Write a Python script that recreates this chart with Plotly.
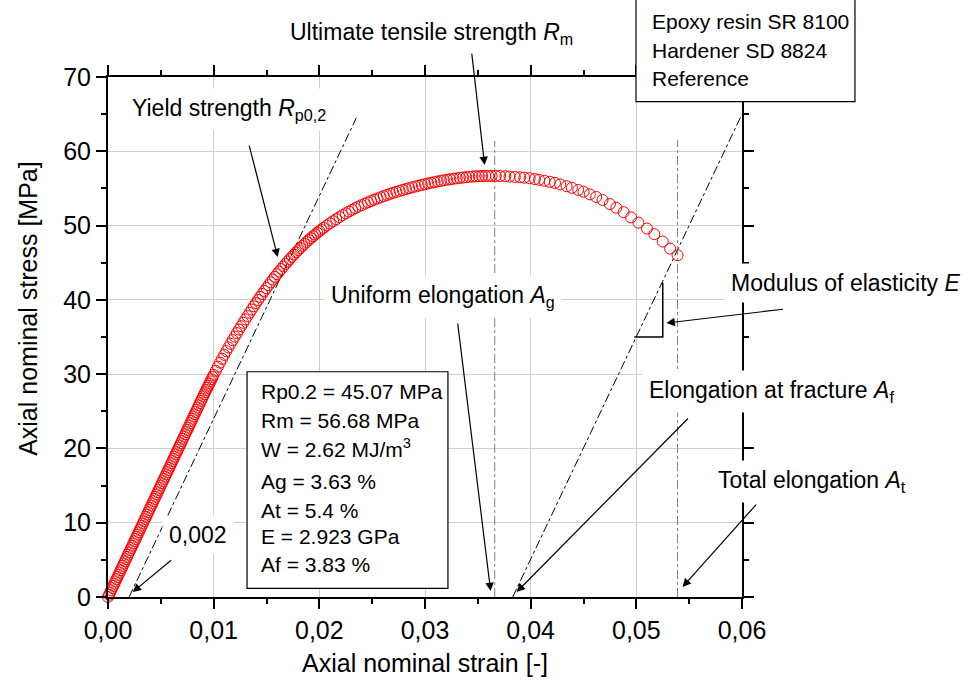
import plotly.graph_objects as go

FONT = "Liberation Sans, Arial, sans-serif"

# ---------------- data ----------------
strain = [
    0.0000, 0.0001, 0.0002, 0.0003, 0.0004, 0.0005, 0.0006, 0.0007, 0.0008, 0.0009,
    0.0010, 0.0011, 0.0012, 0.0013, 0.0014, 0.0015, 0.0016, 0.0017, 0.0018, 0.0019,
    0.0020, 0.0021, 0.0022, 0.0023, 0.0024, 0.0025, 0.0026, 0.0027, 0.0028, 0.0029,
    0.0030, 0.0031, 0.0032, 0.0033, 0.0034, 0.0035, 0.0036, 0.0037, 0.0038, 0.0039,
    0.0040, 0.0041, 0.0042, 0.0043, 0.0044, 0.0045, 0.0046, 0.0047, 0.0048, 0.0049,
    0.0050, 0.0051, 0.0052, 0.0053, 0.0054, 0.0055, 0.0056, 0.0057, 0.0058, 0.0059,
    0.0060, 0.0061, 0.0062, 0.0063, 0.0064, 0.0065, 0.0066, 0.0067, 0.0068, 0.0069,
    0.0070, 0.0071, 0.0072, 0.0073, 0.0074, 0.0075, 0.0076, 0.0077, 0.0078, 0.0079,
    0.0080, 0.0081, 0.0082, 0.0083, 0.0084, 0.0085, 0.0086, 0.0087, 0.0088, 0.0089,
    0.0090, 0.0091, 0.0092, 0.0093, 0.0094, 0.0095, 0.0096, 0.0097, 0.0098, 0.0099,
    0.0100,
    0.0102, 0.0104, 0.0106, 0.0108, 0.0110, 0.0112, 0.0114, 0.0116, 0.0118, 0.0120,
    0.0122, 0.0124, 0.0126, 0.0128, 0.0130, 0.0132, 0.0134, 0.0136, 0.0138, 0.0140,
    0.0142, 0.0144, 0.0146, 0.0148, 0.0150, 0.0152, 0.0154, 0.0156, 0.0158, 0.0160,
    0.0162, 0.0164, 0.0166, 0.0168, 0.0170, 0.0172, 0.0174, 0.0176, 0.0178, 0.0180,
    0.0182, 0.0184, 0.0186, 0.0188, 0.0190, 0.0192, 0.0194, 0.0196, 0.0198, 0.0200,
    0.0202, 0.0204,
    0.0207, 0.0210, 0.0213, 0.0216, 0.0219, 0.0222, 0.0225, 0.0228, 0.0231, 0.0234,
    0.0237, 0.0240, 0.0243, 0.0246, 0.0249, 0.0252, 0.0255, 0.0258, 0.0261, 0.0264,
    0.0267, 0.0270, 0.0273, 0.0276, 0.0279, 0.0282, 0.0285, 0.0288, 0.0291, 0.0294,
    0.0297, 0.0300, 0.0303, 0.0306, 0.0309, 0.0312, 0.0315, 0.0318, 0.0321, 0.0324,
    0.0327, 0.0330, 0.0333, 0.0336, 0.0339, 0.0342, 0.0345, 0.0348, 0.0351, 0.0354,
    0.0357, 0.0360, 0.0363,
    0.0367, 0.0371, 0.0376, 0.0380, 0.0385, 0.0390, 0.0394, 0.0399, 0.0404, 0.0408,
    0.0413, 0.0418, 0.0423, 0.0428, 0.0434, 0.0439, 0.0445, 0.0450, 0.0456, 0.0462,
    0.0468, 0.0475, 0.0481, 0.0488, 0.0495, 0.0502, 0.0510, 0.0517, 0.0525, 0.0532,
    0.0539,
]

stress = [
    0.0, 0.3, 0.6, 0.9, 1.2, 1.5, 1.8, 2.1, 2.4, 2.7,
    3.0, 3.3, 3.6, 3.9, 4.2, 4.5, 4.8, 5.1, 5.4, 5.7,
    6.0, 6.3, 6.6, 6.9, 7.2, 7.5, 7.8, 8.1, 8.4, 8.7,
    9.0, 9.3, 9.6, 9.9, 10.2, 10.5, 10.8, 11.1, 11.4, 11.7,
    12.0, 12.3, 12.6, 12.9, 13.2, 13.5, 13.8, 14.1, 14.4, 14.7,
    15.0, 15.3, 15.6, 15.9, 16.2, 16.5, 16.8, 17.1, 17.4, 17.7,
    18.0, 18.3, 18.6, 18.9, 19.2, 19.5, 19.8, 20.1, 20.4, 20.7,
    21.0, 21.3, 21.6, 21.9, 22.2, 22.5, 22.8, 23.1, 23.4, 23.7,
    24.0, 24.3, 24.6, 24.9, 25.2, 25.5, 25.8, 26.1, 26.4, 26.7,
    27.0, 27.29, 27.58, 27.87, 28.16, 28.45, 28.74, 29.03, 29.32, 29.61,
    29.90,
    30.45, 31.00, 31.54, 32.07, 32.59, 33.10, 33.60, 34.09, 34.58, 35.06,
    35.53, 36.00, 36.46, 36.92, 37.37, 37.82, 38.26, 38.70, 39.13, 39.56,
    39.98, 40.39, 40.80, 41.20, 41.59, 41.98, 42.36, 42.73, 43.10, 43.46,
    43.81, 44.16, 44.50, 44.83, 45.16, 45.48, 45.79, 46.10, 46.40, 46.69,
    46.98, 47.26, 47.53, 47.80, 48.06, 48.31, 48.56, 48.80, 49.03, 49.26,
    49.48, 49.69,
    50.00, 50.30, 50.59, 50.87, 51.14, 51.40, 51.65, 51.89, 52.12, 52.34,
    52.55, 52.75, 52.94, 53.13, 53.31, 53.48, 53.65, 53.81, 53.97, 54.12,
    54.27, 54.41, 54.54, 54.67, 54.80, 54.92, 55.04, 55.15, 55.26, 55.37,
    55.47, 55.57, 55.67, 55.76, 55.85, 55.94, 56.02, 56.10, 56.17, 56.24,
    56.30, 56.36, 56.42, 56.47, 56.52, 56.56, 56.60, 56.63, 56.65, 56.66,
    56.67, 56.68, 56.68,
    56.68, 56.67, 56.64, 56.60, 56.55, 56.50, 56.45, 56.37, 56.26, 56.16,
    56.03, 55.89, 55.74, 55.54, 55.30, 55.08, 54.80, 54.55, 54.20, 53.85,
    53.45, 52.90, 52.40, 51.80, 51.10, 50.40, 49.60, 48.85, 47.85, 46.90,
    46.00,
]

# construction lines (strain, stress end points)
offset_line_x = [0.0020, 0.0235]
offset_line_y = [0.0, 64.5]
modulus_line_x = [0.0383, 0.0600]
modulus_line_y = [0.0, 65.0]
ag_line_x = [0.0366, 0.0366]
ag_line_y = [0.0, 61.4]
at_line_x = [0.0539, 0.0539]
at_line_y = [0.0, 61.5]
triangle_x = [0.0498, 0.0525, 0.0525]
triangle_y = [35.0, 35.0, 42.3]

x_ticks = [0.00, 0.01, 0.02, 0.03, 0.04, 0.05, 0.06]
y_ticks = [0, 10, 20, 30, 40, 50, 60, 70]

results = [
    "Rp0.2 = 45.07 MPa",
    "Rm = 56.68 MPa",
    "W = 2.62 MJ/m<sup>3</sup>",
    "Ag = 3.63 %",
    "At = 5.4 %",
    "E = 2.923 GPa",
    "Af = 3.83 %",
]
legend_lines = ["Epoxy resin SR 8100", "Hardener SD 8824", "Reference"]

# ---------------- figure ----------------
fig = go.Figure()

fig.add_trace(go.Scatter(x=offset_line_x, y=offset_line_y, mode="lines",
                         line=dict(color="black", width=1, dash="dashdot"),
                         showlegend=False, hoverinfo="skip"))
fig.add_trace(go.Scatter(x=modulus_line_x, y=modulus_line_y, mode="lines",
                         line=dict(color="black", width=1, dash="dashdot"),
                         showlegend=False, hoverinfo="skip"))
for lx, ly in ((ag_line_x, ag_line_y), (at_line_x, at_line_y)):
    fig.add_trace(go.Scatter(x=lx, y=ly, mode="lines",
                             line=dict(color="#808080", width=1, dash="dashdot"),
                             showlegend=False, hoverinfo="skip"))
fig.add_trace(go.Scatter(x=triangle_x, y=triangle_y, mode="lines",
                         line=dict(color="black", width=1.5),
                         showlegend=False, hoverinfo="skip"))

fig.add_trace(go.Scatter(x=strain, y=stress, mode="markers",
                         marker=dict(symbol="circle-open", size=11, color="red",
                                     line=dict(color="red", width=1)),
                         cliponaxis=False, showlegend=False))

ann = []
lab_font = dict(family=FONT, size=23, color="black")


def label(x, y, text, xanchor="left"):
    ann.append(dict(x=x, y=y, xref="x", yref="y", text=text, showarrow=False,
                    xanchor=xanchor, yanchor="middle", font=lab_font,
                    bgcolor="white", borderpad=6))


def arrow(x, y, ax, ay):
    ann.append(dict(x=x, y=y, ax=ax, ay=ay, xref="x", yref="y", axref="x", ayref="y",
                    text="", showarrow=True, arrowhead=2, arrowsize=1.4,
                    arrowwidth=1.2, arrowcolor="black", standoff=0, startstandoff=0))


ann.append(dict(x=0.511, y=1.0846, xref="paper", yref="paper",
                text="Ultimate tensile strength <i>R</i><sub>m</sub>", showarrow=False,
                xanchor="center", yanchor="middle", font=lab_font))
arrow(0.03564, 58.14, 0.03441, 73.35)
label(0.00158, 65.6, "Yield strength <i>R</i><sub>p0,2</sub>")
arrow(0.01606, 45.76, 0.01333, 60.97)
label(0.0085, 8.34, "0,002", xanchor="center")
arrow(0.00234, 0.67, 0.00612, 5.11)
label(0.0204, 40.4, "Uniform elongation <i>A</i><sub>g</sub>")
arrow(0.03621, 0.81, 0.03308, 37.01)
label(0.05834, 42.26, "Modulus of elasticity <i>E</i>")
arrow(0.05285, 36.88, 0.06402, 38.76)
label(0.05049, 27.6, "Elongation at fracture <i>A</i><sub>f</sub>")
arrow(0.03867, 0.67, 0.05503, 24.23)
label(0.05711, 15.6, "Total elongation <i>A</i><sub>t</sub>")
arrow(0.05437, 1.35, 0.06147, 12.65)

# results box text
res_y = [27.63, 23.82, 20.01, 15.52, 11.71, 8.12, 4.44]
for t, yy in zip(results, res_y):
    ann.append(dict(x=0.01429, y=yy, xref="x", yref="y", text=t, showarrow=False,
                    xanchor="left", yanchor="middle",
                    font=dict(family=FONT, size=21, color="black")))

# legend box text
leg_y = [1.1063, 1.0519, 0.9975]
for t, yy in zip(legend_lines, leg_y):
    ann.append(dict(x=0.8549, y=yy, xref="paper", yref="paper", text=t, showarrow=False,
                    xanchor="left", yanchor="middle",
                    font=dict(family=FONT, size=21, color="black")))

# axis titles
ann.append(dict(x=0.5, y=-0.127, xref="paper", yref="paper", showarrow=False,
                text="Axial nominal strain [-]", xanchor="center", yanchor="middle",
                font=dict(family=FONT, size=25, color="black")))
ann.append(dict(x=-0.1262, y=0.556, xref="paper", yref="paper", showarrow=False,
                text="Axial nominal stress [MPa]", textangle=-90,
                xanchor="center", yanchor="middle",
                font=dict(family=FONT, size=25, color="black")))

shapes = [
    dict(type="rect", xref="x", yref="y", x0=0.01316, x1=0.03217, y0=1.17, y1=30.32,
         line=dict(color="black", width=1.2), fillcolor="white", layer="above"),
    dict(type="rect", xref="paper", yref="paper", x0=0.8328, x1=1.1782, y0=0.9525, y1=1.25,
         line=dict(color="black", width=1.2), fillcolor="white", layer="above"),
]

axis_common = dict(
    showline=True, linewidth=2, linecolor="black", mirror="ticks",
    ticks="outside", ticklen=10, tickwidth=2, tickcolor="black",
    showgrid=True, gridcolor="#cfcfcf", gridwidth=1, zeroline=False,
    tickfont=dict(family=FONT, size=25, color="black"),
)

fig.update_layout(
    width=968, height=689,
    margin=dict(l=108, r=226, t=77, b=92),
    paper_bgcolor="white", plot_bgcolor="white",
    separators=", ",
    showlegend=False,
    annotations=ann,
    shapes=shapes,
    xaxis=dict(range=[0, 0.06], tickvals=x_ticks, tickformat=".2f",
               minor=dict(dtick=0.005, ticks="outside", ticklen=5, tickwidth=2,
                          tickcolor="black", showgrid=False),
               **axis_common),
    yaxis=dict(range=[0, 70], tickvals=y_ticks,
               minor=dict(dtick=5, ticks="outside", ticklen=5, tickwidth=2,
                          tickcolor="black", showgrid=False),
               **axis_common),
)

fig.write_html("out.html")
